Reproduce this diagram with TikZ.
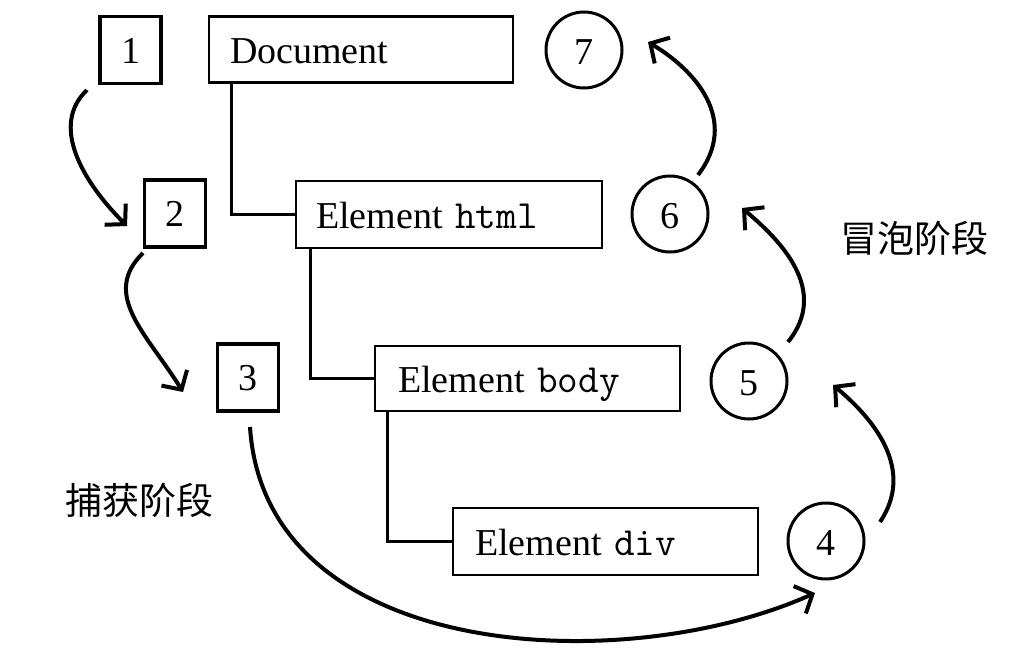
\documentclass[tikz,border=0pt]{standalone}
\usepackage{fontspec}
\setmainfont{Liberation Serif}
\newfontfamily\cjk{Noto Sans CJK SC}
\usetikzlibrary{arrows.meta}
\begin{document}
\begin{tikzpicture}[x=1pt,y=-1pt,
  bigfont/.style={font=\fontsize{38}{40}\selectfont},
  numbox/.style={draw,line width=3.5pt,minimum width=61pt,minimum height=67pt,inner sep=0pt,bigfont,text height=26pt,text depth=0pt},
  elbox/.style={draw,line width=2.5pt,minimum height=66pt,align=left,inner ysep=0pt,bigfont,text height=32pt,text depth=5pt},
  numcirc/.style={draw,circle,line width=3pt,minimum size=76pt,inner sep=0pt,bigfont,text height=28pt,text depth=0pt},
  tree/.style={line width=3pt},
  mono/.style={font=\ttfamily\fontsize{40}{40}\selectfont},
  flow/.style={line width=4pt,-{Straight Barb[length=14pt,width=30pt]}},
  phase/.style={font=\cjk\fontsize{37}{40}\selectfont}]
\useasboundingbox (0,0) rectangle (1036,664);

% numbered squares (capture)
\node[numbox] (b1) at (130.5,50) {1};
\node[numbox] (b2) at (175,213.5) {2};
\node[numbox] (b3) at (248,377.5) {3};

% element boxes
\node[elbox,text width=262pt,inner xsep=21pt] (doc) at (361,49.5) {Document};
\node[elbox,text width=266pt,inner xsep=20pt,minimum height=67pt] (html) at (449,214.5) {Element {\ttfamily\fontsize{40}{40}\selectfont html}};
\node[elbox,text width=259pt,inner xsep=23pt,minimum height=65pt] (body) at (527.5,378.5) {Element {\ttfamily\fontsize{40}{40}\selectfont body}};
\node[elbox,text width=261pt,inner xsep=22pt,minimum height=67pt] (div) at (605.5,541.5) {Element {\ttfamily\fontsize{40}{40}\selectfont div}};

% numbered circles (bubble)
\node[numcirc] (c7) at (584,50) {7};
\node[numcirc] (c6) at (670,214) {6};
\node[numcirc] (c5) at (749,381) {5};
\node[numcirc] (c4) at (826,541) {4};

% phase labels
\node[phase] (cap) at (139,500) {捕获阶段};
\node[phase] (bub) at (914,238) {冒泡阶段};

% tree connectors
\draw[tree] ([xshift=24pt]doc.south west) |- (html.west);
\draw[tree] ([xshift=16pt]html.south west) |- (body.west);
\draw[tree] ([xshift=14pt]body.south west) |- (div.west);

% flow arrows
\coordinate (s12) at (87,90);   \coordinate (e12) at (127,226);
\coordinate (s23) at (143,253); \coordinate (e23) at (183,392);
\coordinate (s34) at (250,427); \coordinate (e34) at (815,593);
\coordinate (s45) at (880,522); \coordinate (e45) at (833,385);
\coordinate (s56) at (788,342); \coordinate (e56) at (742,208);
\coordinate (s67) at (698,175); \coordinate (e67) at (648,42);

\draw[flow] (s12) .. controls (50,125) and (82,181) .. (e12);
\draw[flow] (s23) .. controls (100,295) and (148,335) .. (e23);
\draw[flow] (s34) .. controls (265,660) and (620,680) .. (e34);
\draw[flow] (s45) .. controls (915,470) and (875,420) .. (e45);
\draw[flow] (s56) .. controls (830,290) and (780,240) .. (e56);
\draw[flow] (s67) .. controls (740,120) and (695,70) .. (e67);
\end{tikzpicture}
\end{document}
